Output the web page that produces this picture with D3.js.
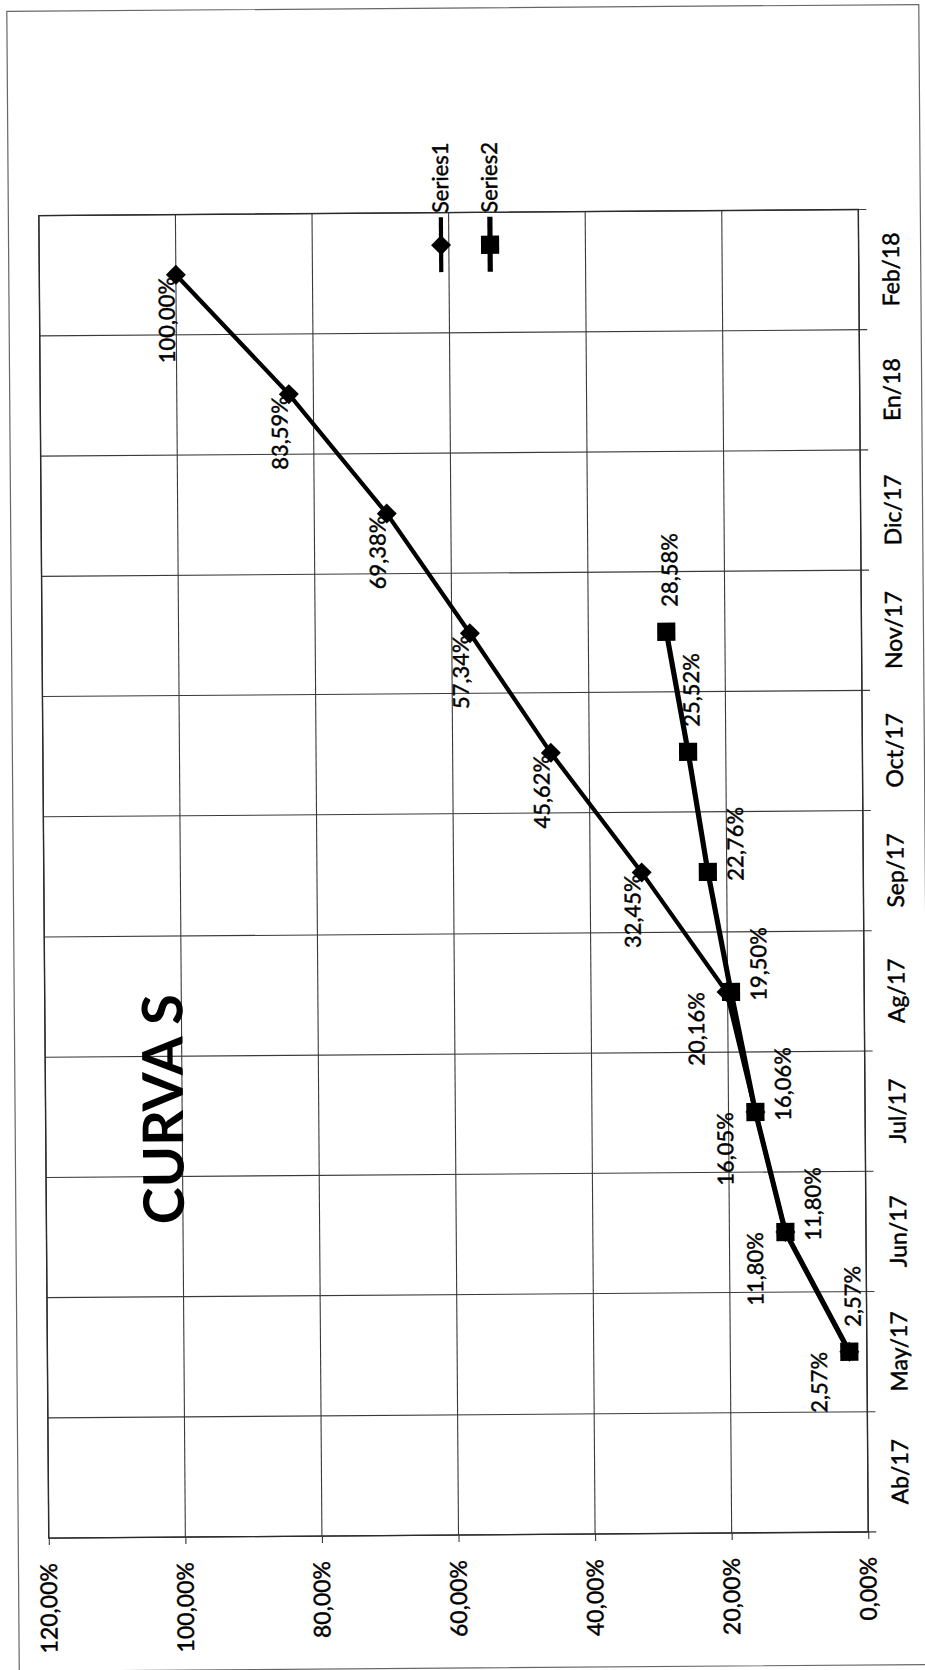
<!DOCTYPE html>
<html><head><meta charset="utf-8">
<script src="https://cdn.jsdelivr.net/npm/d3@7"></script>
<style>body{margin:0;background:#fff} text{paint-order:stroke;}</style>
</head><body>
<svg id="c" width="925" height="1670"></svg>
<script>
const categories = ["Ab/17","May/17","Jun/17","Jul/17","Ag/17","Sep/17","Oct/17","Nov/17","Dic/17","En/18","Feb/18"];
const series1 = [null,2.57,11.80,16.05,20.16,32.45,45.62,57.34,69.38,83.59,100.00];
const series2 = [null,2.57,11.80,16.06,19.50,22.76,25.52,28.58,null,null,null];
const valueTicks = [0,20,40,60,80,100,120];
const seriesNames = ["Series1","Series2"];
const chartTitle = "CURVA S";
// label placement keywords (style only)
const s1LabelPlace = [null,"far","far","far","far","near","near","near","near","near","near"];
const s2LabelPlace = [null,"right","below","below","below","below","right","right",null,null,null];

const fmt = d => d.toFixed(2).replace(".", ",") + "%";
const FONT = "Lato, 'Open Sans', sans-serif";

const svg = d3.select("#c");
svg.append("rect").attr("width",925).attr("height",1670).attr("fill","#fff");
const page = svg.append("g").attr("transform","rotate(-0.43,462,835)");

// outer chart frame
page.append("rect").attr("x",13).attr("y",8).attr("width",912).attr("height",1660)
  .attr("fill","none").attr("stroke","#666").attr("stroke-width",1.2);

const W = 1322.5, H = 819.5;
const g = page.append("g").attr("transform","translate(43.5,1535) rotate(-90)");

const x = d3.scaleBand().domain(categories).range([0,W]).padding(0);
const y = d3.scaleLinear().domain([0,120]).range([H,0]);
const cx = c => x(c) + x.bandwidth()/2;

// value gridlines
g.append("g").selectAll("line").data(valueTicks).join("line")
  .attr("x1",0).attr("x2",W).attr("y1",d=>y(d)).attr("y2",d=>y(d))
  .attr("stroke","#3a3a3a").attr("stroke-width",1.1);
// category boundaries (gridlines + outside ticks)
const bounds = categories.map(c=>x(c)).concat([W]);
g.append("g").selectAll("line").data(bounds).join("line")
  .attr("x1",d=>d).attr("x2",d=>d).attr("y1",0).attr("y2",H+8)
  .attr("stroke","#3a3a3a").attr("stroke-width",1.1);
// plot border
g.append("rect").attr("x",0).attr("y",0).attr("width",W).attr("height",H)
  .attr("fill","none").attr("stroke","#2a2a2a").attr("stroke-width",1.4);

const darken = sel => sel.attr("stroke","#000").attr("stroke-width",0.45);

// value axis
const ya = g.append("g").call(d3.axisLeft(y).tickValues(valueTicks).tickSize(7).tickPadding(18).tickFormat(fmt));
ya.select(".domain").remove();
ya.selectAll("line").attr("stroke","#3a3a3a").attr("stroke-width",1.1);
ya.selectAll("text").attr("font-family",FONT).attr("font-size",23).attr("fill","#000").call(darken);

// category axis
const xa = g.append("g").attr("transform",`translate(0,${H})`)
  .call(d3.axisBottom(x).tickSize(0).tickPadding(24));
xa.select(".domain").remove();
xa.selectAll("text").attr("font-family",FONT).attr("font-size",23).attr("fill","#000").call(darken);

// title
g.append("text").attr("x",428).attr("y",137.5).attr("text-anchor","middle")
  .attr("font-family",FONT).attr("font-weight","bold").attr("font-size",56).text(chartTitle);

const pts1 = categories.map((c,i)=>({c, v:series1[i], p:s1LabelPlace[i]}));
const pts2 = categories.map((c,i)=>({c, v:series2[i], p:s2LabelPlace[i]}));
const line = d3.line().defined(d=>d.v!=null).x(d=>cx(d.c)).y(d=>y(d.v));

const diamond = d3.symbol(d3.symbolSquare, 200);
const square = d3.symbol(d3.symbolSquare, 330);

// series 1
g.append("path").datum(pts1).attr("d",line).attr("fill","none").attr("stroke","#000").attr("stroke-width",4.2);
g.append("g").selectAll("path").data(pts1.filter(d=>d.v!=null)).join("path")
  .attr("d",diamond).attr("transform",d=>`translate(${cx(d.c)},${y(d.v)}) rotate(45)`).attr("fill","#000");
// series 2
g.append("path").datum(pts2).attr("d",line).attr("fill","none").attr("stroke","#000").attr("stroke-width",5.2);
g.append("g").selectAll("path").data(pts2.filter(d=>d.v!=null)).join("path")
  .attr("d",square).attr("transform",d=>`translate(${cx(d.c)},${y(d.v)})`).attr("fill","#000");

// data labels
const lab = g.append("g").attr("font-family",FONT).attr("font-size",22).attr("fill","#000");
lab.selectAll("text.s1").data(pts1.filter(d=>d.v!=null)).join("text").attr("class","s1")
  .attr("text-anchor","end").attr("dominant-baseline","central")
  .attr("x",d=>cx(d.c) + (d.p==="far"?0:-2))
  .attr("y",d=>y(d.v) + (d.p==="far"?-31:-10))
  .text(d=>fmt(d.v)).call(darken);
lab.selectAll("text.s2").data(pts2.filter(d=>d.v!=null)).join("text").attr("class","s2")
  .attr("text-anchor","start").attr("dominant-baseline","central")
  .attr("x",d=>cx(d.c) + (d.p==="right"?25:-9))
  .attr("y",d=>y(d.v) + (d.p==="right"?3:27))
  .text(d=>fmt(d.v)).call(darken);

// legend
const leg = g.append("g");
const legV = [402, 451];
seriesNames.forEach((name,i)=>{
  const v = legV[i];
  leg.append("line").attr("x1",1263).attr("x2",1318).attr("y1",v).attr("y2",v)
    .attr("stroke","#000").attr("stroke-width",i===0?4.2:5.2);
  leg.append("path").attr("d", i===0?diamond:square)
    .attr("transform",`translate(1290,${v})` + (i===0?" rotate(45)":"")).attr("fill","#000");
  leg.append("text").attr("x",1322).attr("y",v-1).attr("dominant-baseline","central")
    .attr("font-family",FONT).attr("font-size",22).text(name).call(darken);
});
</script>
</body></html>
